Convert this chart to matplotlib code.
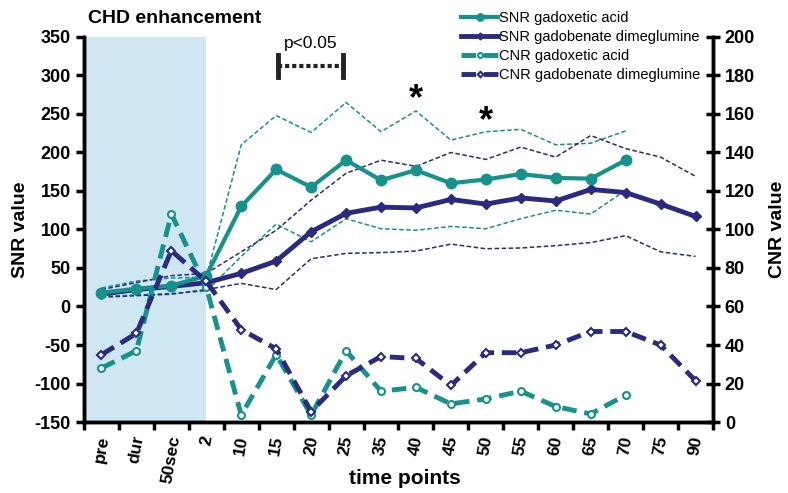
import numpy as np
import matplotlib
matplotlib.use("Agg")
import matplotlib.pyplot as plt

plt.rcParams['font.family'] = ['Liberation Sans', 'DejaVu Sans']
plt.rcParams['axes.unicode_minus'] = False

# categories on the x axis
time_points = ['pre', 'dur', '50sec', '2', '10', '15', '20', '25', '35', '40',
               '45', '50', '55', '60', '65', '70', '75', '90']
nan = np.nan

# SNR (left axis)
snr_gadox = [18, 23, 27, 40, 130, 178, 155, 190, 164, 177, 160, 165, 172, 167, 166, 190, nan, nan]
snr_gadob = [16, 22, 26, 31, 43, 59, 97, 121, 129, 128, 139, 133, 141, 137, 152, 148, 133, 117]
snr_gadox_hi = [24, 33, 37, 38, 210, 248, 226, 265, 227, 254, 216, 227, 230, 210, 212, 228, nan, nan]
snr_gadox_lo = [13, 15, 17, 20, 65, 107, 84, 114, 101, 99, 104, 101, 114, 125, 120, 151, nan, nan]
snr_gadob_hi = [22, 31, 40, 43, 71, 99, 138, 173, 190, 182, 200, 191, 207, 194, 222, 205, 194, 169]
snr_gadob_lo = [12, 14, 16, 22, 30, 22, 62, 69, 70, 72, 81, 75, 76, 79, 83, 92, 71, 65]

# CNR (right axis)
cnr_gadox = [28, 37, 108, 70, 3.6, 35, 3.6, 37, 16, 18, 9.4, 12, 16, 8, 4.2, 14, nan, nan]
cnr_gadob = [35, 46, 89, 73, 48, 38, 5.4, 24, 34, 33, 19, 36, 36, 40, 47, 47, 40, 21.5]

teal = '#16918b'
navy = '#2a2a7e'
shade = '#cfe6f3'

x = np.arange(len(time_points))

fig = plt.figure(figsize=(7.88, 4.93), dpi=100)
ax = fig.add_axes([0.1066, 0.144, 0.7982, 0.781])
ax2 = ax.twinx()

# shaded enhancement phase
ax.axvspan(-0.5, 3, color=shade, zorder=0, lw=0)

# thin dashed bands
for vals, c in [(snr_gadox_hi, teal), (snr_gadox_lo, teal), (snr_gadob_hi, navy), (snr_gadob_lo, navy)]:
    ax.plot(x, vals, color=c, lw=1.1, dashes=(3, 1.6), zorder=2)

l1, = ax.plot(x, snr_gadox, color=teal, lw=3, marker='o', ms=7.5, zorder=4,
              label='SNR gadoxetic acid')
l2, = ax.plot(x, snr_gadob, color=navy, lw=3.5, marker='D', ms=5, zorder=3,
              label='SNR gadobenate dimeglumine')

l3, = ax2.plot(x, cnr_gadox, color=teal, lw=3.5, dashes=(3, 1.6), marker='o', ms=5,
               mfc='white', mec=teal, mew=1.5, label='CNR gadoxetic acid')
l4, = ax2.plot(x, cnr_gadob, color=navy, lw=3.5, dashes=(3, 1.6), marker='D', ms=4,
               mfc='white', mec=navy, mew=1.5, label='CNR gadobenate dimeglumine')

ax.set_xlim(-0.5, len(time_points) - 0.5)
ax.set_ylim(-150, 350)
ax2.set_ylim(0, 200)
ax.set_yticks(np.arange(-150, 351, 50))
ax2.set_yticks(np.arange(0, 201, 20))

ax.set_xticks(x)
ax.set_xticklabels(time_points, rotation=80, fontweight='bold', fontsize=12.5)
ax.set_xticks(np.arange(-0.5, len(time_points), 1), minor=True)
ax.tick_params(axis='x', which='major', length=0, pad=9)
ax.tick_params(axis='x', which='minor', length=6, width=2.5, direction='out')
ax.tick_params(axis='y', length=6, width=2.5, direction='out', labelsize=13)
ax2.tick_params(axis='y', length=10, width=2.5, direction='inout', labelsize=13)
for lab in ax.get_yticklabels() + ax2.get_yticklabels():
    lab.set_fontweight('bold')

for a in (ax, ax2):
    a.spines['top'].set_visible(False)
    for s in ('left', 'right', 'bottom'):
        a.spines[s].set_linewidth(2.5)

ax.set_ylabel('SNR value', fontsize=14, fontweight='bold', labelpad=4)
ax2.set_ylabel('CNR value', fontsize=14, fontweight='bold', labelpad=10)
fig.text(405 / 788, 1 - 478 / 493, 'time points', fontsize=15, fontweight='bold',
         ha='center', va='center')

fig.text(0.112, 0.963, 'CHD enhancement', fontsize=14, fontweight='bold', ha='left', va='center')

# significance bracket
ax.plot([5.05, 6.9], [312, 312], color='#222222', lw=3, ls=(0, (1, 0.7)), zorder=5)
ax.plot([5.05, 5.05], [298, 326], color='#222222', lw=3.5, zorder=5)
ax.plot([6.9, 6.9], [298, 326], color='#222222', lw=3.5, zorder=5)
ax.text(6.0, 332, 'p<0.05', ha='center', va='bottom', fontsize=12.5)
ax.text(9, 268, '*', ha='center', va='center', fontsize=26, fontweight='bold')
ax.text(11, 240, '*', ha='center', va='center', fontsize=26, fontweight='bold')

fig.legend([l1, l2, l3, l4], [h.get_label() for h in (l1, l2, l3, l4)],
           loc='upper left', bbox_to_anchor=(0.578, 0.99), frameon=False,
           fontsize=10.5, handlelength=2.5, handletextpad=0.1, labelspacing=0.35,
           borderaxespad=0, markerscale=0.7)

fig.savefig('out.png', dpi=100)
